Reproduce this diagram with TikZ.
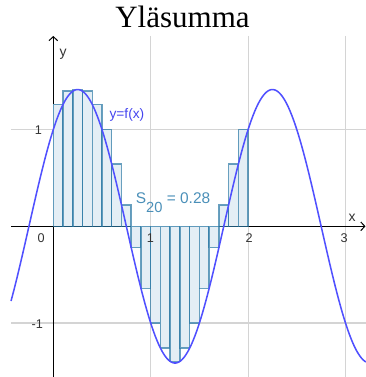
\documentclass[tikz,border=0pt]{standalone}
\usepackage{fontspec}
\setmainfont{Liberation Sans}
\newfontfamily\titlefont{Liberation Serif}
\usetikzlibrary{arrows.meta}
\definecolor{gridgray}{HTML}{D4D4D4}
\definecolor{curveblue}{HTML}{5050FF}
\definecolor{labelblue}{HTML}{4444EE}
\definecolor{rectedge}{HTML}{2A78A4}
\definecolor{rectfill}{HTML}{E4EEF5}
\definecolor{sumcol}{HTML}{4A8FB8}
\definecolor{ticktext}{HTML}{333333}
\tikzset{
  gridline/.style={draw=gridgray, line width=0.9pt},
  axisline/.style={draw=black, line width=0.75pt, -{Straight Barb[length=3pt,width=6.5pt]}},
  sumrect/.style={fill=rectfill, draw=rectedge, draw opacity=0.7, line width=1.1pt},
  curve/.style={draw=curveblue, line width=1.15pt},
  ticklabel/.style={text=ticktext, font=\fontsize{9.5}{11}\selectfont, inner sep=0pt},
  axislabel/.style={text=ticktext, font=\fontsize{10.5}{12}\selectfont, inner sep=0pt},
}
\begin{document}
\begin{tikzpicture}[x=73.05pt, y=72.525pt]
\useasboundingbox (-0.5472,-1.5584) rectangle (3.2105,2.3402);
% title
\node[anchor=base, inner sep=0pt, font=\titlefont\fontsize{23.25}{26}\selectfont] (title) at (1.3265,2.0558) {Yläsumma};
% grid
\foreach \gx in {1,2,3} \draw[gridline] (\gx,1.968) -- (\gx,-1.5584);
\foreach \gy in {1,-1} \draw[gridline] (-0.434,\gy) -- (3.2105,\gy);
% axes
\coordinate (xs) at (-0.434,0);
\coordinate (xe) at (3.205,0);
\coordinate (ys) at (0,-1.5584);
\coordinate (ye) at (0,1.968);
\draw[axisline] (xs) -- (xe);
\draw[axisline] (ys) -- (ye);
% rectangles (upper sum, n=20)
\foreach \h [count=\k from 0] in {1.260,1.397,1.414,1.397,1.260,1.0,0.642,0.221,-0.221,-0.642,-1.0,-1.260,-1.397,-1.260,-1.0,-0.642,-0.221,0.221,0.642,1.0}
  \draw[sumrect] ({\k/10},0) rectangle ({\k/10+0.1},\h);
% curve
\draw[curve, domain=-0.434:3.2105, samples=240, smooth] plot (\x,{sin(180*\x)+cos(180*\x)});
% labels
\node[axislabel, anchor=base west] (ylab) at (0.062,1.754) {y};
\node[axislabel, anchor=base west] (xlab) at (3.029,0.048) {x};
\node[ticklabel, anchor=east] (t0) at (-0.085,-0.121) {0};
\node[ticklabel, anchor=east] (ty1) at (-0.113,0.996) {1};
\node[ticklabel, anchor=east] (tym1) at (-0.103,-1.01) {-1};
\node[ticklabel] (tx1) at (0.998,-0.124) {1};
\node[ticklabel] (tx2) at (2.01,-0.124) {2};
\node[ticklabel] (tx3) at (2.985,-0.124) {3};
\node[anchor=base west, inner sep=0pt, text=labelblue, font=\fontsize{10.3}{12}\selectfont] (flab) at (0.575,1.117) {y=f(x)};
\node[anchor=base west, inner sep=0pt, text=sumcol, font=\fontsize{11.6}{13}\selectfont] (slab) at (0.845,0.2378) {S\raisebox{-7pt}{\fontsize{11}{12}\selectfont 20} = 0.28};
\end{tikzpicture}
\end{document}
